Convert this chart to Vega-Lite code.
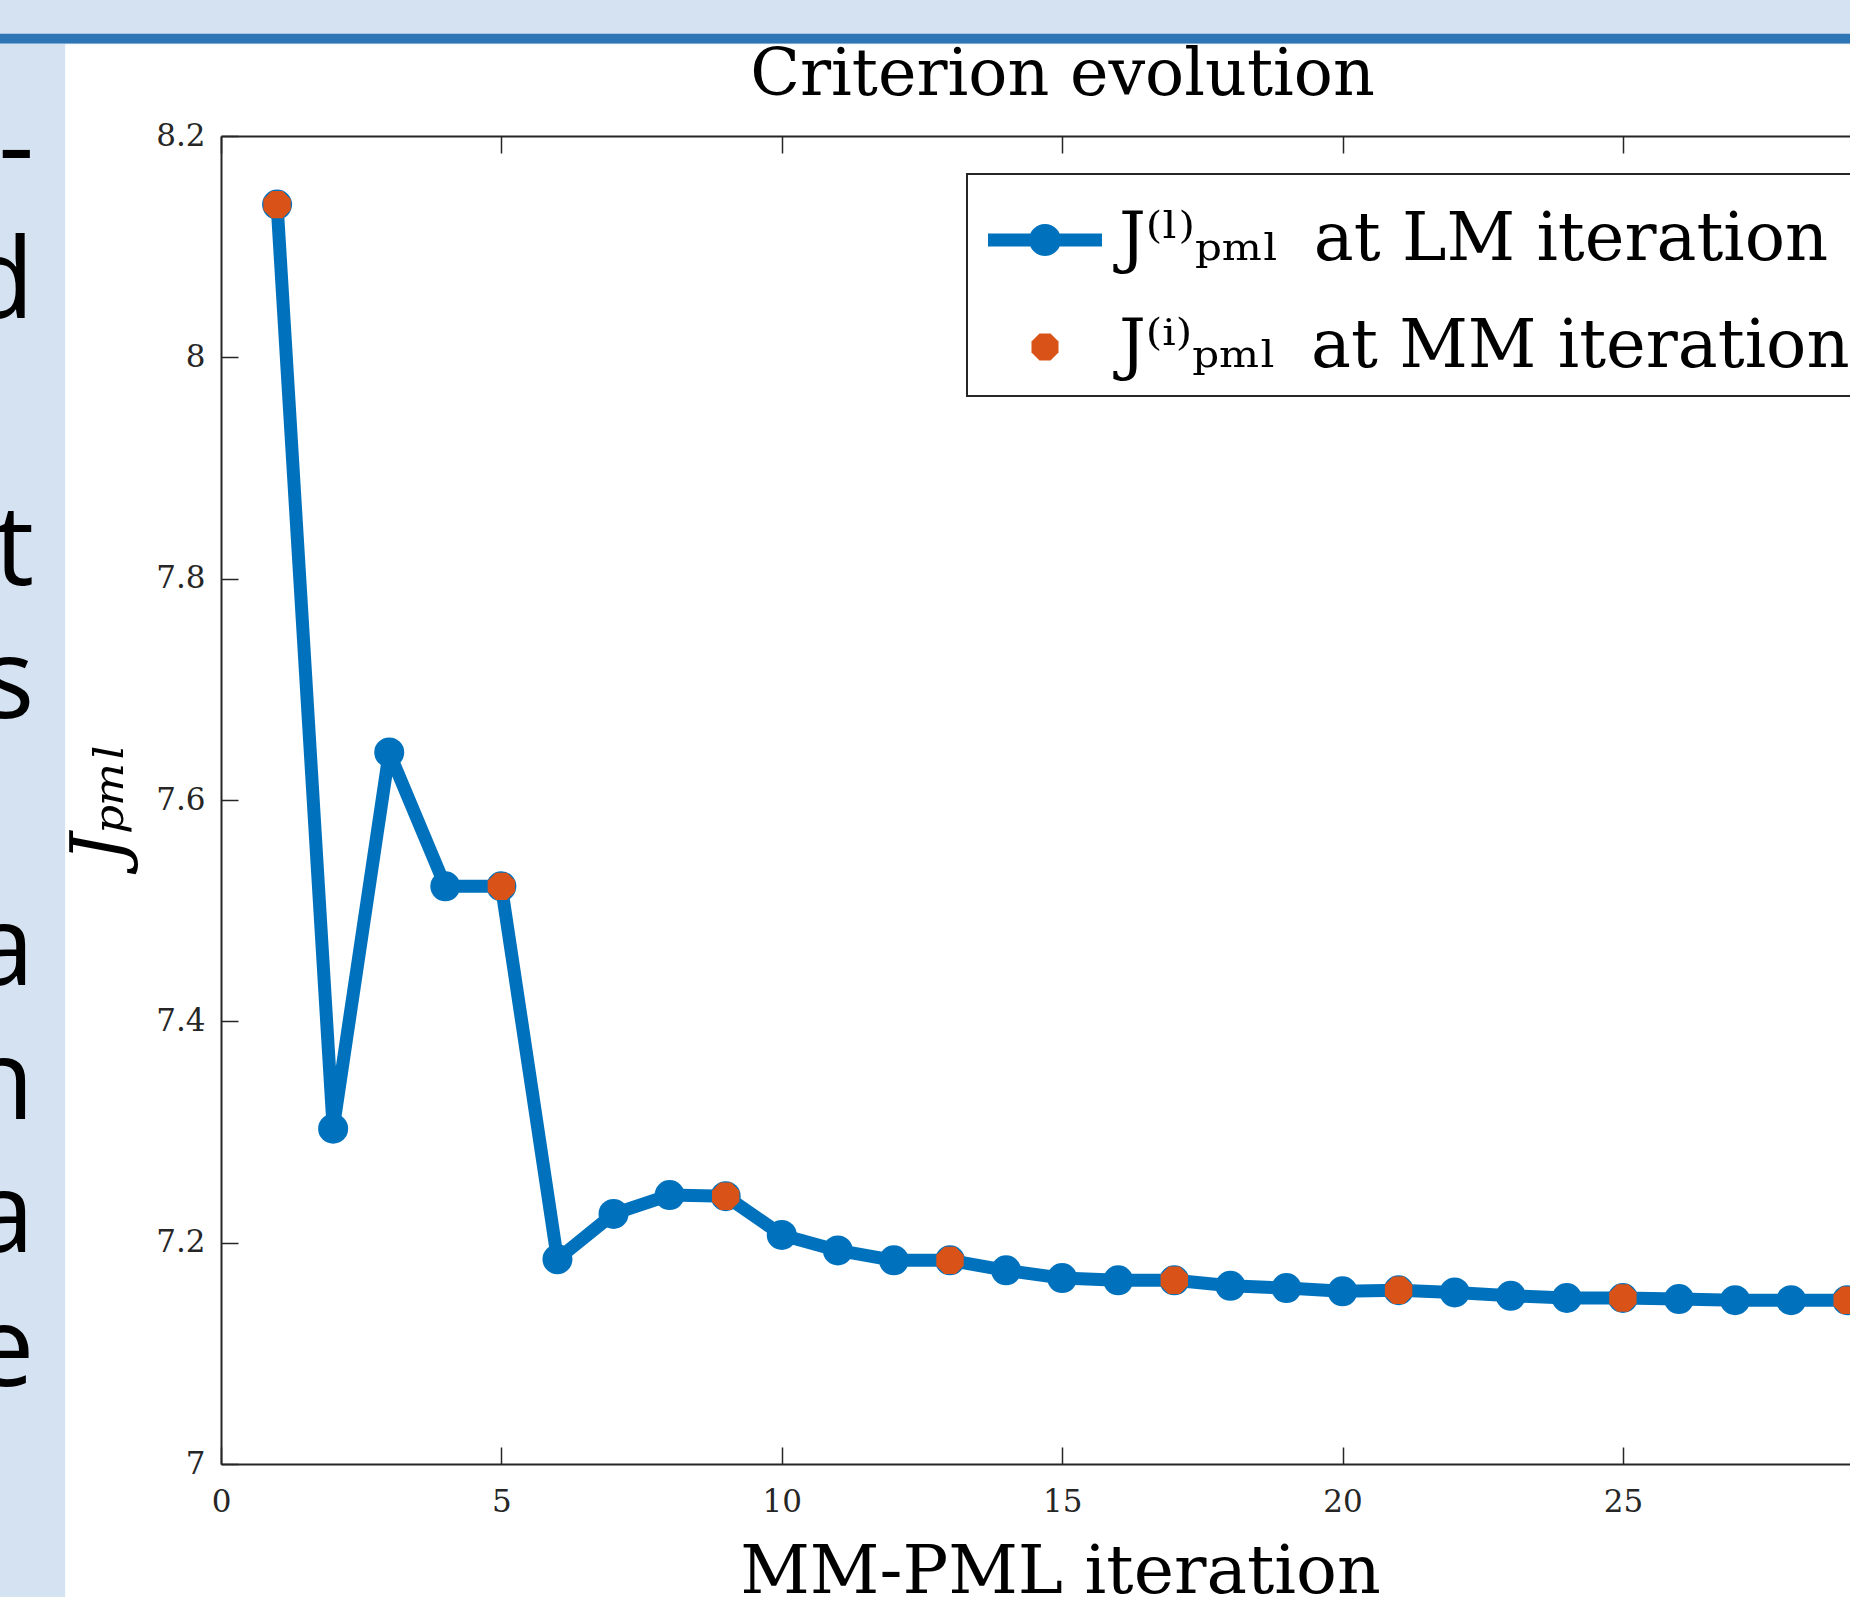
{
  "$schema": "https://vega.github.io/schema/vega-lite/v6.json",
  "width": 1629,
  "height": 1328,
  "autosize": {"type": "none"},
  "padding": {"left": 221, "top": 136, "right": 0, "bottom": 133},
  "background": "#D5E2F1",
  "config": {"view": {"stroke": null}, "legend": {"strokeWidth": 2}},
  "datasets": {
    "crit": [
      {"it": 1, "J": 8.138, "mm": 1}, {"it": 2, "J": 7.303, "mm": 0}, {"it": 3, "J": 7.643, "mm": 0},
      {"it": 4, "J": 7.522, "mm": 0}, {"it": 5, "J": 7.522, "mm": 1}, {"it": 6, "J": 7.185, "mm": 0},
      {"it": 7, "J": 7.226, "mm": 0}, {"it": 8, "J": 7.243, "mm": 0}, {"it": 9, "J": 7.242, "mm": 1},
      {"it": 10, "J": 7.207, "mm": 0}, {"it": 11, "J": 7.193, "mm": 0}, {"it": 12, "J": 7.184, "mm": 0},
      {"it": 13, "J": 7.184, "mm": 1}, {"it": 14, "J": 7.175, "mm": 0}, {"it": 15, "J": 7.168, "mm": 0},
      {"it": 16, "J": 7.166, "mm": 0}, {"it": 17, "J": 7.166, "mm": 1}, {"it": 18, "J": 7.161, "mm": 0},
      {"it": 19, "J": 7.159, "mm": 0}, {"it": 20, "J": 7.156, "mm": 0}, {"it": 21, "J": 7.157, "mm": 1},
      {"it": 22, "J": 7.155, "mm": 0}, {"it": 23, "J": 7.152, "mm": 0}, {"it": 24, "J": 7.150, "mm": 0},
      {"it": 25, "J": 7.150, "mm": 1}, {"it": 26, "J": 7.149, "mm": 0}, {"it": 27, "J": 7.148, "mm": 0},
      {"it": 28, "J": 7.148, "mm": 0}, {"it": 29, "J": 7.148, "mm": 1}
    ],
    "series": [{"series": "LM"}, {"series": "MM"}],
    "slideText": [
      {"t": "-", "line": 0}, {"t": "d", "line": 1}, {"t": "t", "line": 3}, {"t": "s", "line": 4},
      {"t": "a", "line": 6}, {"t": "n", "line": 7}, {"t": "a", "line": 8}, {"t": "e", "line": 9}
    ]
  },
  "layer": [
    {
      "data": {"values": [{"part": "panel"}]},
      "mark": {"type": "rect", "color": "#FFFFFF"},
      "encoding": {
        "x": {"datum": -2.78, "type": "quantitative", "scale": {"domain": [0, 29.05], "nice": false, "zero": false}, "axis": null},
        "x2": {"datum": 40},
        "y": {"datum": 8.283, "type": "quantitative", "scale": {"domain": [7, 8.2], "nice": false, "zero": false}, "axis": null},
        "y2": {"datum": 6.8}
      }
    },
    {
      "data": {"values": [{"part": "band"}]},
      "mark": {"type": "rect", "color": "#2E75B6"},
      "encoding": {
        "x": {"datum": -5, "type": "quantitative", "axis": null},
        "x2": {"datum": 40},
        "y": {"datum": 8.2925, "type": "quantitative", "scale": {"domain": [7, 8.2], "nice": false, "zero": false}, "axis": null},
        "y2": {"datum": 8.2835}
      }
    },
    {
      "data": {"name": "crit"},
      "mark": {"type": "line", "color": "#0072BD", "strokeWidth": 13, "strokeJoin": "round"},
      "encoding": {
        "x": {"field": "it", "type": "quantitative",
          "axis": {"orient": "bottom", "values": [0, 5, 10, 15, 20, 25], "tickSize": -17, "tickWidth": 1.5, "tickColor": "#262626", "domainColor": "#262626", "domainWidth": 2, "labelFont": "DejaVu Serif", "labelFontSize": 31, "labelColor": "#262626", "labelPadding": 40, "labelFlush": false, "grid": false, "title": "MM-PML iteration", "titleFont": "DejaVu Serif", "titleFontSize": 68, "titleFontWeight": "normal", "titleColor": "#000000", "titleX": 839, "titleY": 128, "titleBaseline": "alphabetic", "titleAlign": "center", "zindex": 1}},
        "y": {"field": "J", "type": "quantitative", "scale": {"domain": [7, 8.2], "nice": false, "zero": false},
          "axis": {"orient": "left", "values": [7, 7.2, 7.4, 7.6, 7.8, 8, 8.2], "format": "~g", "tickSize": -17, "tickWidth": 1.5, "tickColor": "#262626", "domainColor": "#262626", "domainWidth": 2, "labelFont": "DejaVu Serif", "labelFontSize": 31, "labelColor": "#262626", "labelPadding": 33, "labelFlush": false, "grid": false, "title": "Jₚₘₗ", "titleFont": "DejaVu Serif", "titleFontSize": 72, "titleFontStyle": "italic", "titleFontWeight": "normal", "titleColor": "#000000", "titleAngle": -90, "titleX": -99, "titleY": 666, "titleBaseline": "alphabetic", "titleAlign": "center", "zindex": 1}}
      }
    },
    {
      "data": {"name": "crit"},
      "mark": {"type": "point", "filled": true, "shape": "circle", "size": 900, "opacity": 1, "color": "#0072BD"},
      "encoding": {
        "x": {"field": "it", "type": "quantitative", "axis": null},
        "y": {"field": "J", "type": "quantitative", "scale": {"domain": [7, 8.2], "nice": false, "zero": false}, "axis": null}
      }
    },
    {
      "data": {"name": "crit"},
      "transform": [{"filter": "datum.mm == 1"}],
      "mark": {"type": "point", "filled": true, "shape": "M-0.4,-1L0.4,-1L1,-0.4L1,0.4L0.4,1L-0.4,1L-1,0.4L-1,-0.4Z", "size": 750, "opacity": 1, "color": "#D95319"},
      "encoding": {
        "x": {"field": "it", "type": "quantitative", "axis": null},
        "y": {"field": "J", "type": "quantitative", "scale": {"domain": [7, 8.2], "nice": false, "zero": false}, "axis": null}
      }
    },
    {
      "data": {"name": "series"},
      "mark": {"type": "point", "filled": true, "opacity": 0, "size": 10000},
      "encoding": {
        "x": {"datum": 0, "type": "quantitative", "axis": null},
        "y": {"datum": 7, "type": "quantitative", "scale": {"domain": [7, 8.2], "nice": false, "zero": false}, "axis": null},
        "color": {"field": "series", "type": "nominal",
          "scale": {"domain": ["LM", "MM"], "range": ["#0072BD", "#D95319"]},
          "legend": {"orient": "none", "legendX": 746, "legendY": 38, "title": null, "fillColor": "#FFFFFF", "strokeColor": "#262626", "padding": 16, "rowPadding": 24, "symbolSize": 10000, "symbolOffset": 12, "symbolOpacity": 1, "symbolStrokeWidth": 0, "labelOffset": 24, "labelFont": "DejaVu Serif", "labelFontSize": 67, "labelColor": "#000000", "labelLimit": 2000, "zindex": 2,
            "labelExpr": "datum.value === 'LM' ? 'J⁽ˡ⁾ₚₘₗ\u2009 at LM iteration' : 'J⁽ⁱ⁾ₚₘₗ\u2009 at MM iteration'"}},
        "shape": {"field": "series", "type": "nominal",
          "scale": {"domain": ["LM", "MM"], "range": ["M-1.14,-0.13H1.14V0.13H-1.14Z M0.32,0A0.32,0.32,0,1,1,-0.32,0A0.32,0.32,0,1,1,0.32,0Z", "M-0.11,-0.27L0.11,-0.27L0.27,-0.11L0.27,0.11L0.11,0.27L-0.11,0.27L-0.27,0.11L-0.27,-0.11Z"]},
          "legend": {"orient": "none", "legendX": 746, "legendY": 38, "title": null, "fillColor": "#FFFFFF", "strokeColor": "#262626", "padding": 16, "rowPadding": 24, "symbolSize": 10000, "symbolOffset": 12, "symbolOpacity": 1, "symbolStrokeWidth": 0, "labelOffset": 24, "labelFont": "DejaVu Serif", "labelFontSize": 67, "labelColor": "#000000", "labelLimit": 2000, "zindex": 2,
            "labelExpr": "datum.value === 'LM' ? 'J⁽ˡ⁾ₚₘₗ\u2009 at LM iteration' : 'J⁽ⁱ⁾ₚₘₗ\u2009 at MM iteration'"}}
      }
    },
    {
      "data": {"name": "slideText"},
      "mark": {"type": "text", "font": "Open Sans", "fontSize": 112, "color": "#000000", "align": "right", "baseline": "alphabetic"},
      "encoding": {
        "x": {"datum": -3.33, "type": "quantitative", "scale": {"domain": [0, 29.05], "nice": false, "zero": false},
          "axis": {"orient": "top", "values": [0, 5, 10, 15, 20, 25], "labels": false, "ticks": true, "tickSize": -17, "tickWidth": 1.5, "tickColor": "#262626", "domainColor": "#262626", "domainWidth": 2, "grid": false, "title": "Criterion evolution", "titleFont": "DejaVu Serif", "titleFontSize": 65, "titleFontWeight": "normal", "titleColor": "#000000", "titleX": 841, "titleY": -42, "titleBaseline": "alphabetic", "titleAlign": "center", "zindex": 1}},
        "y": {"field": "line", "type": "quantitative", "scale": {"domain": [-0.363, 9.585], "reverse": true, "nice": false, "zero": false}, "axis": null},
        "text": {"field": "t"}
      }
    }
  ],
  "resolve": {"scale": {"y": "independent"}, "axis": {"x": "independent", "y": "independent"}}
}
